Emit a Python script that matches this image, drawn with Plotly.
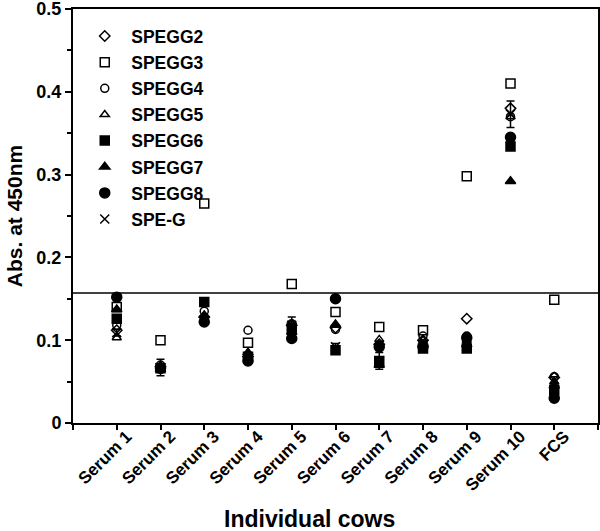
import plotly.graph_objects as go

categories = ["Serum 1", "Serum 2", "Serum 3", "Serum 4", "Serum 5", "Serum 6",
              "Serum 7", "Serum 8", "Serum 9", "Serum 10", "FCS"]

series_names = ["SPEGG2", "SPEGG3", "SPEGG4", "SPEGG5", "SPEGG6", "SPEGG7", "SPEGG8", "SPE-G"]

spegg2 = [0.112, 0.068, 0.128, 0.080, 0.118, 0.115, 0.095, 0.100, 0.126, 0.380, 0.055]
spegg3 = [0.140, 0.100, 0.265, 0.097, 0.168, 0.134, 0.116, 0.112, 0.298, 0.410, 0.149]
spegg4 = [0.118, 0.070, 0.135, 0.112, 0.120, 0.113, 0.094, 0.105, 0.105, 0.370, 0.056]
spegg5 = [0.103, 0.066, 0.130, 0.082, 0.120, 0.118, 0.101, 0.100, 0.100, 0.370, 0.050]
spegg6 = [0.126, 0.066, 0.146, 0.080, 0.115, 0.088, 0.075, 0.090, 0.090, 0.334, 0.040]
spegg7 = [0.137, 0.065, 0.130, 0.085, 0.110, 0.119, 0.070, 0.095, 0.095, 0.292, 0.045]
spegg8 = [0.152, 0.066, 0.122, 0.075, 0.102, 0.150, 0.092, 0.092, 0.103, 0.345, 0.030]
speg = [0.109, 0.067, 0.125, 0.078, 0.118, 0.092, 0.075, 0.095, 0.100, 0.373, 0.052]
speg_err = [0.004, 0.010, 0.004, 0.004, 0.010, 0.004, 0.010, 0.004, 0.004, 0.016, 0.004]

cutoff = 0.157

values = [spegg2, spegg3, spegg4, spegg5, spegg6, spegg7, spegg8, speg]
symbols = ["diamond-open", "square-open", "circle-open", "triangle-up-open",
           "square", "triangle-up", "circle", "x-thin-open"]
sizes = [8, 9, 8, 8, 9, 9, 10, 9]

xpos = list(range(1, len(categories) + 1))

fig = go.Figure()
for name, vals, sym, sz in zip(series_names, values, symbols, sizes):
    kw = {}
    if name == "SPE-G":
        kw["error_y"] = dict(type="data", array=speg_err, color="black",
                             thickness=1.5, width=4, visible=True)
    fig.add_trace(go.Scatter(
        x=xpos, y=vals, mode="markers", name=name, legendgroup=name,
        marker=dict(symbol=sym, size=sz, color="black",
                    line=dict(color="black", width=1.5)),
        **kw))

fig.add_shape(type="line", xref="paper", x0=0, x1=1, yref="y", y0=cutoff, y1=cutoff,
              line=dict(color="black", width=1.5))

font_family = "Arial, Liberation Sans, sans-serif"

fig.update_layout(
    width=600, height=531,
    margin=dict(l=73, r=2, t=9, b=108),
    plot_bgcolor="white", paper_bgcolor="white",
    font=dict(family=font_family, color="black"),
    showlegend=True,
    legend=dict(x=0.01, y=0.978, xanchor="left", yanchor="top",
                bgcolor="rgba(0,0,0,0)", tracegroupgap=0.4,
                font=dict(size=17.5, family=font_family, weight="bold"),
                itemwidth=43),
    annotations=[dict(text="<b>Individual cows</b>", xref="paper", yref="paper",
                      x=(309 - 73) / 525, y=-(519 - 423) / 414,
                      xanchor="center", yanchor="middle",
                      showarrow=False,
                      font=dict(size=23, family=font_family))],
)

fig.update_xaxes(
    range=[0, 12], tickmode="array", tickvals=list(range(0, 13)),
    ticktext=[""] + categories + [""], tickangle=-45,
    ticks="outside", ticklen=5, tickwidth=1.5, tickcolor="black",
    ticklabelstandoff=-10, ticklabelshift=10,
    showline=True, linewidth=2, linecolor="black", mirror=True,
    showgrid=False, zeroline=False, automargin=False,
    tickfont=dict(size=17, family=font_family, weight="bold"),
)
fig.update_yaxes(
    range=[0, 0.5], tickmode="array", tickvals=[0, 0.1, 0.2, 0.3, 0.4, 0.5],
    ticktext=["0", "0.1", "0.2", "0.3", "0.4", "0.5"],
    ticks="outside", ticklen=6, tickwidth=1.5, tickcolor="black",
    ticklabeloverflow="allow",
    minor=dict(tickvals=[0.05, 0.15, 0.25, 0.35, 0.45], ticks="outside",
               ticklen=4, tickwidth=1.5, tickcolor="black", showgrid=False),
    showline=True, linewidth=2, linecolor="black", mirror=True,
    showgrid=False, zeroline=False, automargin=False,
    title=dict(text="Abs. at 450nm", standoff=8,
               font=dict(size=21, family=font_family, weight="bold")),
    tickfont=dict(size=18, family=font_family, weight="bold"),
)

fig.write_html("out.html", config={"displayModeBar": False},
               post_script="document.body.style.margin='0';document.body.style.padding='0';")
